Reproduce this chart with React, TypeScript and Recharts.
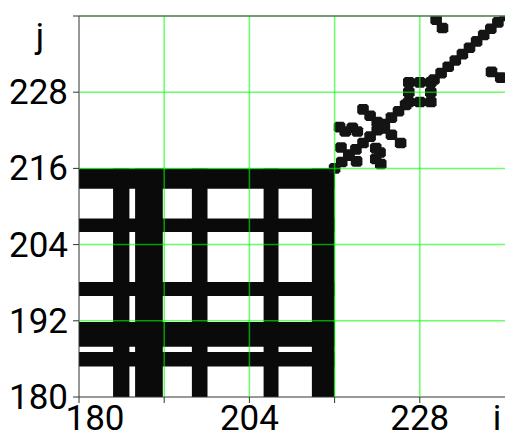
import { ScatterChart, Scatter, XAxis, YAxis, ReferenceArea, ReferenceLine } from "recharts";

// index ranges where the state stays in the recurring cluster (black rows / columns)
const bandLo = [184.8, 187.9, 195.9, 206.0, 212.8];
const bandHi = [187.1, 191.8, 198.1, 208.1, 216.0];

// main diagonal of the later part (227-229 replaced by the ring below)
const diagI = [216, 217, 218, 219, 220, 221, 222, 223, 224, 225, 226, 230, 231, 232, 233, 234, 235, 236, 237, 238, 239, 240];

// hollow square around (228, 228)
const ringI = [226.45, 228, 229.55, 226.45, 229.55, 226.45, 228, 229.55];
const ringJ = [226.45, 226.45, 226.45, 228, 228, 229.55, 229.55, 229.55];

// off-diagonal recurrences
const offI = [216.7, 217.5, 218.5, 219.2, 222.5, 221.8, 222.4, 221.8, 220, 221, 222, 223, 224, 225.3, 216.9, 218, 219.1, 230.3, 231.2, 239.4, 238.1];
const offJ = [222.5, 221.8, 222.4, 221.8, 216.7, 217.5, 218.5, 219.2, 225.3, 224.3, 223.3, 222.3, 221.3, 220, 219.3, 218.2, 217.1, 239.4, 238.1, 230.3, 231.2];

const xTicks = [180, 192, 204, 216, 228];
const xLabels = [180, 204, 228];
const yTicks = [180, 192, 204, 216, 228, 240];
const yLabels = [180, 192, 204, 216, 228];
const gridAt = [192, 204, 216, 228];

const points = [
  ...diagI.map((v) => ({ i: v, j: v })),
  ...ringI.map((v, k) => ({ i: v, j: ringJ[k] })),
  ...offI.map((v, k) => ({ i: v, j: offJ[k] })),
];

const textStyle = { fontFamily: "Roboto, 'Liberation Serif', serif", fontSize: 35 };

const Dot = (props: any) => {
  const { cx, cy } = props;
  const w = 5.8, h = 5.3, c = 2;
  const pts = [
    [cx - w + c, cy - h], [cx + w - c, cy - h], [cx + w, cy - h + c], [cx + w, cy + h - c],
    [cx + w - c, cy + h], [cx - w + c, cy + h], [cx - w, cy + h - c], [cx - w, cy - h + c],
  ].map((p) => p.join(",")).join(" ");
  return <polygon points={pts} fill="#141414" />;
};

const XTick = (props: any) => {
  const { x, y, payload } = props;
  if (!xLabels.includes(payload.value)) return null;
  const dx = payload.value === 180 ? 16 : 0;
  return (
    <text x={x + dx} y={y} dy={25} textAnchor="middle" style={textStyle} fill="#000">
      {payload.value}
    </text>
  );
};

const YTick = (props: any) => {
  const { x, y, payload } = props;
  if (!yLabels.includes(payload.value)) return null;
  return (
    <text x={x - 3} y={y} dy={12} textAnchor="end" style={textStyle} fill="#000">
      {payload.value}
    </text>
  );
};

export default function App() {
  return (
    <div style={{ position: "absolute", left: 0, top: 0, width: 505, height: 440, background: "#fff" }}>
      <ScatterChart width={505} height={440} margin={{ top: 16, right: 0, bottom: 0, left: 0 }}>
        <XAxis
          dataKey="i"
          type="number"
          domain={[180, 240]}
          ticks={xTicks}
          allowDataOverflow
          height={43}
          tickSize={6}
          tick={<XTick />}
          axisLine={{ stroke: "#333" }}
          tickLine={{ stroke: "#333" }}
        />
        <YAxis
          dataKey="j"
          type="number"
          domain={[180, 240]}
          ticks={yTicks}
          allowDataOverflow
          width={79}
          tickSize={6}
          tick={<YTick />}
          axisLine={{ stroke: "#333" }}
          tickLine={{ stroke: "#333" }}
        />
        {bandLo.map((lo, k) => (
          <ReferenceArea key={"r" + k} x1={180} x2={216} y1={lo} y2={bandHi[k]} fill="#0a0a0a" fillOpacity={1} stroke="none" zIndex={50} />
        ))}
        {bandLo.map((lo, k) => (
          <ReferenceArea key={"c" + k} x1={lo} x2={bandHi[k]} y1={180} y2={216} fill="#0a0a0a" fillOpacity={1} stroke="none" zIndex={50} />
        ))}
        <Scatter data={points} shape={<Dot />} isAnimationActive={false} />
        {gridAt.map((v) => (
          <ReferenceLine key={"gx" + v} x={v} stroke="#00ff00" strokeOpacity={0.6} strokeWidth={1.5} zIndex={700} />
        ))}
        {gridAt.map((v) => (
          <ReferenceLine key={"gy" + v} y={v} stroke="#00ff00" strokeOpacity={0.6} strokeWidth={1.5} zIndex={700} />
        ))}
        <ReferenceLine y={240} stroke="#4a7a4a" strokeWidth={1.5} zIndex={700} />
      </ScatterChart>
      <svg width={505} height={440} style={{ position: "absolute", left: 0, top: 0, pointerEvents: "none" }}>
        <text x={40} y={48} textAnchor="middle" style={textStyle} fill="#000">j</text>
        <text x={497} y={430} textAnchor="middle" style={textStyle} fill="#000">i</text>
      </svg>
    </div>
  );
}
